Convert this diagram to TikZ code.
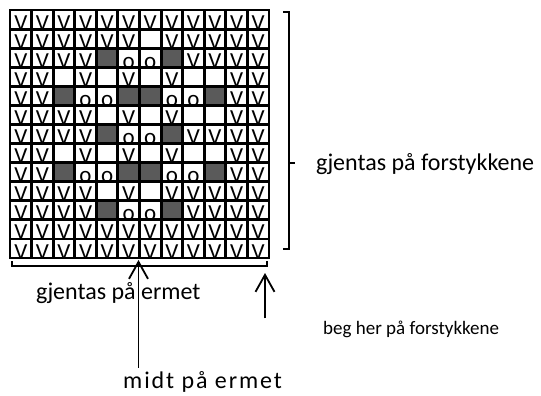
\documentclass[tikz,border=0pt]{standalone}
\usepackage{fontspec}
\setmainfont{Carlito}
\newfontfamily\sperret[LetterSpace=8]{Carlito}
\usetikzlibrary{arrows.meta}
\definecolor{rutegraa}{RGB}{90,90,90}

% innhold i en rute: V, o, grå eller tom
\newcommand\rutev[2]{\node[celle] (c#2-#1) at (#1-0.5,#2) {V};}
\newcommand\ruteo[2]{\node[celle] (c#2-#1) at (#1-0.5,#2) {o};}
\newcommand\ruteg[2]{\fill[rutegraa] (#1-1,#2-1) rectangle (#1,#2);}
\newcommand\rutee[2]{}

\tikzset{
  celle/.style={anchor=base,inner sep=0pt,yshift=-1pt,font=\fontsize{23}{23}\selectfont},
  rute/.style={line width=2.9pt,line cap=rect},
  klamme/.style={line width=1.4pt},
  pil/.style={line width=1.8pt,-{Straight Barb[length=17pt,width=19pt]}},
  tekst/.style={inner sep=0pt,font=\fontsize{24}{26}\selectfont},
  litentekst/.style={inner sep=0pt,font=\fontsize{19}{21}\selectfont}
}

\begin{document}
\begin{tikzpicture}[x=1pt,y=-1pt]
\useasboundingbox (0,0) rectangle (541,396);
% mønsteret, 12 masker x 13 omganger
\begin{scope}[shift={(10,10)},x=21.58pt,y=-19.08pt]
  \foreach \rad [count=\r] in {
    {v,v,v,v,v,v,v,v,v,v,v,v},
    {v,v,v,v,v,v,e,v,v,v,v,v},
    {v,v,v,v,g,o,o,g,v,v,v,v},
    {v,v,e,v,e,v,e,v,e,e,v,v},
    {v,v,g,o,o,g,g,o,o,g,v,v},
    {v,v,v,v,e,v,e,v,e,e,v,v},
    {v,v,v,v,g,o,o,g,v,v,v,v},
    {v,v,e,v,e,v,e,v,e,e,v,v},
    {v,v,g,o,o,g,g,o,o,g,v,v},
    {v,v,v,v,e,v,e,v,v,v,v,v},
    {v,v,v,v,g,o,o,g,v,v,v,v},
    {v,v,v,v,v,v,v,v,v,v,v,v},
    {v,v,v,v,v,v,v,v,v,v,v,v}}{
    \foreach \c [count=\k] in \rad {
      \csname rute\c\endcsname{\k}{\r}
    }
  }
  \foreach \i in {0,...,12}
    \draw[rute] (\i,0) -- (\i,13);
  \foreach \j in {0,...,13}
    \draw[rute] (0,\j) -- (12,\j);
\end{scope}
% klammer
\draw[klamme] (283,12) -- (289,12) -- (289,249) -- (283,249);
\draw[klamme] (289,163) -- (295,163);
\draw[klamme] (12,261) -- (12,266) -- (267,266) -- (267,261);
% tekster
\node[tekst,anchor=base west] (forstykke) at (316,170) {gjentas på forstykkene};
\node[tekst,anchor=base west] (erme) at (36,299) {gjentas på ermet};
\node[litentekst,anchor=base west] (beg) at (323,334) {beg her på forstykkene};
\node[tekst,anchor=base west] (midt) at (123,388) {\sperret midt på ermet};
% piler
\coordinate (midtspiss) at (138.5,260);
\coordinate (begspiss) at (265,273);
\draw[pil] ([yshift=3pt]midtspiss |- midt.north) -- (midtspiss);
\draw[pil] ([yshift=2pt]begspiss |- beg.north) -- (begspiss);
\end{tikzpicture}
\end{document}
